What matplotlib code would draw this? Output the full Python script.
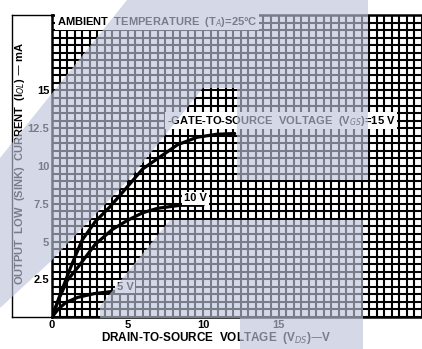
import numpy as np
import matplotlib
matplotlib.use("Agg")
import matplotlib.pyplot as plt
from matplotlib.patches import Polygon
from matplotlib.lines import Line2D
from matplotlib.transforms import Affine2D

plt.rcParams["font.family"] = ["Liberation Sans Narrow", "Liberation Sans", "DejaVu Sans"]

# Curve readings (V_DS in volts, I_OL in mA)
vds_15 = [0, 0.66, 1.32, 2.0, 2.85, 3.84, 4.97, 6.0, 7.15, 8.3, 9.6, 10.9, 12.1]
iol_15 = [0, 1.8, 3.5, 5.1, 6.3, 7.3, 8.6, 9.8, 10.6, 11.4, 11.9, 12.1, 12.15]
vds_10 = [0, 0.5, 1.0, 1.72, 2.85, 4.0, 5.0, 6.0, 7.0, 8.5, 10.0]
iol_10 = [0, 1.3, 2.4, 3.3, 4.8, 5.8, 6.4, 6.9, 7.2, 7.4, 7.4]
vds_5 = [0, 0.4, 0.9, 1.7, 2.8, 3.9, 4.5]
iol_5 = [0, 0.5, 0.95, 1.3, 1.55, 1.68, 1.72]

x_ticks = [0, 5, 10, 15]
x_ticklabels = ["0", "5", "10", "15"]
y_ticks = [2.5, 5, 7.5, 10, 12.5, 15]
y_ticklabels = ["2.5", "5", "7.5", "10", "12.5", "15"]

W, H = 422, 349
fig = plt.figure(figsize=(W / 100, H / 100), dpi=100)
fig.patch.set_facecolor("white")
ax = fig.add_axes([52 / W, 32 / H, 370 / W, 302 / H])
ax.set_xlim(0, 370 / 15.1)
ax.set_ylim(0, 20)

# dense black graph-paper grid
ax.set_xticks(np.arange(0, 25, 0.5), minor=True)
ax.set_yticks(np.arange(0, 20.01, 0.5), minor=True)
ax.set_xticks(x_ticks)
ax.set_xticklabels(x_ticklabels)
ax.set_yticks(y_ticks)
ax.set_yticklabels(y_ticklabels)
ax.grid(which="both", color="black", lw=1.5)
ax.set_axisbelow(True)
ax.tick_params(which="both", length=0)
ax.tick_params(axis="x", pad=2)
ax.tick_params(axis="y", pad=2)
for lab in ax.get_xticklabels() + ax.get_yticklabels():
    lab.set_fontsize(8)
    lab.set_fontweight("bold")
for s in ["left", "bottom", "top"]:
    ax.spines[s].set_linewidth(1.8)
ax.spines["right"].set_visible(False)

# curves
for xs, ys in [(vds_15, iol_15), (vds_10, iol_10), (vds_5, iol_5)]:
    ax.plot(xs, ys, color="black", lw=2.3, solid_capstyle="round", zorder=3)

box = dict(facecolor="white", edgecolor="none", pad=1.2)
ax.text(0.3, 19.55, "AMBIENT  TEMPERATURE  (T$_A$)=25\u00b0C", fontsize=8,
        fontweight="bold", va="center", ha="left", bbox=box, zorder=4)
ax.text(7.6, 13.0, "-GATE-TO-SOURCE  VOLTAGE  (V$_{GS}$)=15 V", fontsize=8,
        fontweight="bold", va="center", ha="left", bbox=box, zorder=4)
ax.text(8.75, 7.85, "10 V", fontsize=8, fontweight="bold", va="center",
        ha="left", bbox=box, zorder=4)
ax.text(4.3, 2.0, "5 V", fontsize=8, fontweight="bold", va="center",
        ha="left", bbox=box, zorder=4)

ax.set_xlabel("DRAIN-TO-SOURCE  VOLTAGE  (V$_{DS}$)\u2014V", fontsize=8.5,
              fontweight="bold", va="center")
ax.xaxis.set_label_coords((216 - 52) / 370, -21 / 302)
fig.text(20 / W, 1 - 163 / H, "OUTPUT  LOW  (SINK)  CURRENT  (I$_{OL}$) \u2014 mA",
         rotation=90, fontsize=8, fontweight="bold", ha="center", va="center")

# pixel-space transform for the outer frame and the scan watermark
px = Affine2D().scale(1 / W, -1 / H).translate(0, 1) + fig.transFigure
for xs, ys in [([12, 52], [15, 15]), ([12, 12], [15, 317]), ([12, 52], [317, 317])]:
    fig.add_artist(Line2D(xs, ys, color="black", lw=1.0, transform=px))

wm = (190 / 255, 195 / 255, 216 / 255)
g1 = [(0, 158), (127, 0), (368, 0), (368, 180), (237, 180), (237, 88),
      (203, 88), (133, 175), (50, 262), (0, 308)]
g2 = [(170, 220), (363, 220), (363, 349), (240, 349), (240, 318),
      (100, 318), (100, 306)]
for g in [g1, g2]:
    fig.add_artist(Polygon(g, closed=True, facecolor=wm, edgecolor="none",
                           alpha=0.64, transform=px, zorder=10))

plt.savefig("out.png", dpi=100)
